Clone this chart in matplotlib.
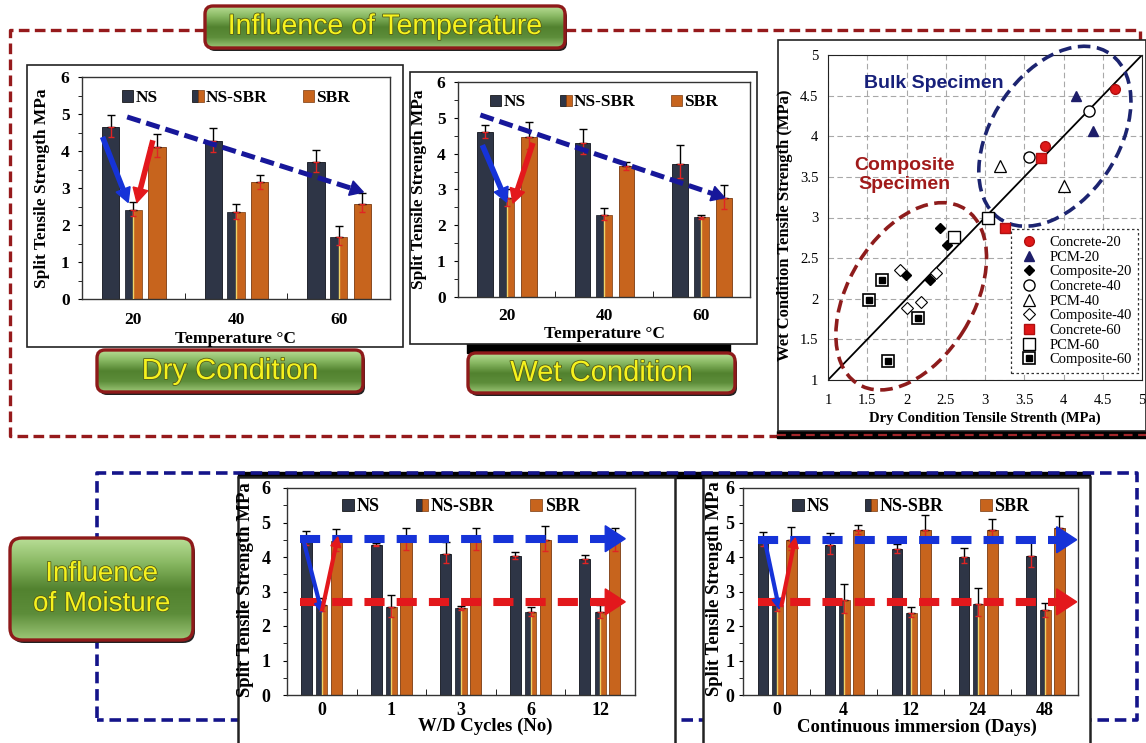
import numpy as np
import matplotlib
matplotlib.use('Agg')
import matplotlib.pyplot as plt
from matplotlib.patches import Rectangle, FancyBboxPatch, Ellipse, Polygon, Patch
from matplotlib.legend_handler import HandlerTuple
from matplotlib.colors import LinearSegmentedColormap
import matplotlib.patheffects as pe

# temperature series (split tensile strength, MPa)
temps = ['20', '40', '60']
dry_ns = [4.65, 4.27, 3.70]
dry_ns_err = [0.33, 0.36, 0.33]
dry_mix = [2.41, 2.34, 1.68]
dry_mix_err = [0.20, 0.22, 0.29]
dry_sbr = [4.12, 3.15, 2.57]
dry_sbr_err = [0.34, 0.21, 0.29]

wet_ns = [4.60, 4.30, 3.72]
wet_ns_err = [0.19, 0.40, 0.51]
wet_mix = [2.75, 2.30, 2.23]
wet_mix_err = [0.27, 0.18, 0.07]
wet_sbr = [4.47, 3.65, 2.76]
wet_sbr_err = [0.41, 0.12, 0.37]

# wetting/drying cycles
cycles = ['0', '1', '3', '6', '12']
wd_ns = [4.53, 4.36, 4.10, 4.03, 3.94]
wd_ns_err = [0.21, 0.06, 0.33, 0.11, 0.13]
wd_mix = [2.60, 2.55, 2.52, 2.40, 2.40]
wd_mix_err = [0.20, 0.35, 0.07, 0.15, 0.20]
wd_sbr = [4.45, 4.48, 4.48, 4.50, 4.48]
wd_sbr_err = [0.36, 0.35, 0.35, 0.41, 0.37]

# continuous immersion
days = ['0', '4', '12', '24', '48']
im_ns = [4.50, 4.35, 4.23, 4.01, 4.04]
im_ns_err = [0.23, 0.34, 0.15, 0.24, 0.43]
im_mix = [2.60, 2.75, 2.39, 2.65, 2.45]
im_mix_err = [0.20, 0.47, 0.17, 0.45, 0.22]
im_sbr = [4.50, 4.78, 4.78, 4.77, 4.83]
im_sbr_err = [0.37, 0.15, 0.44, 0.33, 0.36]

# dry vs wet strength, one list pair per specimen group
conc20_x, conc20_y = [4.66, 3.77], [4.58, 3.88]
pcm20_x, pcm20_y = [4.16, 4.38], [4.49, 4.06]
comp20_x, comp20_y = [2.43, 2.51, 1.99, 2.30], [2.87, 2.66, 2.29, 2.23]
conc40_x, conc40_y = [4.32, 3.56], [4.31, 3.74]
pcm40_x, pcm40_y = [3.19, 4.01], [3.63, 3.39]
comp40_x, comp40_y = [1.92, 2.38, 2.00, 2.18], [2.36, 2.32, 1.89, 1.96]
conc60_x, conc60_y = [3.71, 3.26], [3.73, 2.87]
pcm60_x, pcm60_y = [3.04, 2.60], [2.99, 2.76]
comp60_x, comp60_y = [1.69, 1.52, 2.15, 1.77], [2.23, 1.98, 1.76, 1.23]

W, H = 1146, 743
SERIF = 'Liberation Serif'
SANS = 'Liberation Sans'
NS_C = '#2E3546'
SBR_C = '#C7641D'
BLUE = '#1633D8'
NAVY = '#17179A'
RED = '#E3181C'
plt.rcParams['font.family'] = SERIF


def frac(x0, y0, x1, y1):
    return [x0 / W, 1 - y1 / H, (x1 - x0) / W, (y1 - y0) / H]


fig = plt.figure(figsize=(W / 100, H / 100), dpi=100)
bg = fig.add_axes([0, 0, 1, 1])
bg.axis('off')

# dashed group outlines
red_dash = dict(color='#961A1C', lw=2.4, linestyle=(0, (3.2, 1.6)), zorder=1)
bg.plot([205, 10, 10, 777], [30, 30, 436, 436], **red_dash)
bg.plot([565, 1140, 1140], [30, 30, 60], **red_dash)
blue_dash = dict(color='#14148A', lw=2.6, linestyle=(0, (3.2, 1.6)), zorder=2)
bg.add_patch(Rectangle((238, 472), 852, 6, color='black', zorder=1))
bg.plot([97, 97, 1137, 1137, 97], [718, 473, 473, 720, 720], **blue_dash)

# white chart panels
def panel(x0, y0, x1, y1, lw=1.2):
    bg.add_patch(Rectangle((x0, y0), x1 - x0, y1 - y0, fc='white', ec='#222222', lw=lw, zorder=3))

panel(27, 65, 403, 347)
bg.add_patch(Rectangle((467, 343), 263, 10, color='black', zorder=2))
panel(410, 72, 757, 344)
bg.add_patch(Rectangle((777, 431), 369, 7, color='black', zorder=2))
bg.plot([777, 1146], [434.5, 434.5], color='#A3262A', lw=1.6, linestyle=(0, (4, 2.5)), zorder=4)
panel(778, 40, 1146, 431)
panel(238, 477, 675, 746, lw=1.8)
panel(703, 477, 1090, 746, lw=1.8)

# green title boxes
green = LinearSegmentedColormap.from_list('g', ['#B8DD95', '#86B660', '#52822F', '#5D8D3A', '#9CC676'])
grad = green(np.linspace(0, 1, 64))[:, None, :3]


def title_box(x0, y0, x1, y1, text, fs, rs=8):
    shadow = FancyBboxPatch((x0 + 2, y0 + 3), x1 - x0, y1 - y0, boxstyle=f'round,pad=0,rounding_size={rs}',
                            fc='#222222', ec='none', zorder=5)
    bg.add_patch(shadow)
    box = FancyBboxPatch((x0, y0), x1 - x0, y1 - y0, boxstyle=f'round,pad=0,rounding_size={rs}',
                         fc='none', ec='#8E1A1A', lw=2.4, zorder=7)
    bg.add_patch(box)
    im = bg.imshow(grad, extent=(x0, x1, y1, y0), aspect='auto', zorder=6, interpolation='bilinear')
    im.set_clip_path(box)
    bg.text((x0 + x1) / 2, (y0 + y1) / 2, text, ha='center', va='center', fontsize=fs, family=SANS,
            color='#F6F21E', zorder=8, linespacing=1.2,
            path_effects=[pe.withStroke(linewidth=1.2, foreground='#55601A')])


title_box(205, 6, 565, 48, 'Influence of Temperature', 20.5)
title_box(97, 350, 363, 392, 'Dry Condition', 21)
title_box(468, 353, 735, 393, 'Wet Condition', 21)
title_box(10, 538, 193, 640, 'Influence\nof Moisture', 20, rs=12)
bg.set_xlim(0, W)
bg.set_ylim(H, 0)


def thick_arrow(ax, p0, p1, color, lw, head_len, head_w, dash=None, z=6):
    t = ax.transData
    a, b = t.transform(p0), t.transform(p1)
    u = (b - a) / np.hypot(*(b - a))
    base = b - u * head_len
    base_d = t.inverted().transform(base)
    ax.plot([p0[0], base_d[0]], [p0[1], base_d[1]], color=color, lw=lw, linestyle=dash or '-',
            solid_capstyle='butt', dash_capstyle='butt', zorder=z, clip_on=False)
    n = np.array([-u[1], u[0]])
    tri = np.array([b, base + n * head_w / 2, base - n * head_w / 2])
    ax.add_patch(Polygon(t.inverted().transform(tri), closed=True, color=color, zorder=z, clip_on=False))


def bar_chart(ax, cats, ns, ns_e, mix, mix_e, sbr, sbr_e, offs, width, fs):
    x = np.arange(len(cats))
    ns, mix, sbr = np.array(ns), np.array(mix), np.array(sbr)
    ax.bar(x + offs[0], ns, width, color=NS_C, edgecolor='#10131c', lw=0.6, zorder=2)
    ax.bar(x + offs[1] - width / 4, mix, width / 2, color=NS_C, edgecolor='#10131c', lw=0.5, zorder=2)
    ax.bar(x + offs[1] + width / 4, mix, width / 2, color=SBR_C, edgecolor='#7a3a10', lw=0.5, zorder=2)
    ax.vlines(x + offs[1], 0, mix, color='#F0D468', lw=1.0, zorder=3)
    ax.bar(x + offs[2], sbr, width, color=SBR_C, edgecolor='#7a3a10', lw=0.6, zorder=2)
    for off, v, e in ((offs[0], ns, ns_e), (offs[1], mix, mix_e), (offs[2], sbr, sbr_e)):
        e = np.array(e)
        ax.errorbar(x + off, v, yerr=[np.zeros_like(e), e], fmt='none', ecolor='black', elinewidth=1,
                    capsize=3, zorder=4)
        ax.errorbar(x + off, v, yerr=[e * 0.8, np.zeros_like(e)], fmt='none', ecolor='#E02424',
                    elinewidth=1, capsize=2.5, zorder=4)
    ax.set_xlim(-0.5, len(cats) - 0.5)
    ax.set_ylim(0, 6)
    ax.set_yticks(range(7))
    ax.set_yticks(np.arange(0.5, 6, 1), minor=True)
    ax.set_xticks(x)
    ax.set_xticklabels(cats)
    ax.set_xticks(np.arange(0.5, len(cats) - 1, 1), minor=True)
    ax.tick_params(axis='x', which='major', length=0, labelsize=fs, pad=9)
    ax.tick_params(axis='x', which='minor', length=4, direction='in')
    ax.tick_params(axis='y', which='both', length=3, direction='out', labelsize=fs, pad=6)
    for lab in ax.get_xticklabels() + ax.get_yticklabels():
        lab.set_fontweight('bold')
    for s in ax.spines.values():
        s.set_color('#333333')
        s.set_linewidth(1.0)
    handles = [Patch(fc=NS_C, ec='black', lw=0.5),
               (Patch(fc=NS_C, ec='black', lw=0.5), Patch(fc=SBR_C, ec='#7a3a10', lw=0.5)),
               Patch(fc=SBR_C, ec='#7a3a10', lw=0.5)]
    ax.legend(handles, ['NS', 'NS-SBR', 'SBR'], ncol=3, loc='center', bbox_to_anchor=(0.5, 0.905),
              frameon=False, handlelength=0.65, handleheight=0.65, handletextpad=0.15, columnspacing=2.0,
              prop=dict(family=SERIF, weight='bold', size=fs),
              handler_map={tuple: HandlerTuple(ndivide=None, pad=0)})


def label_texts(ax, xlab, xl_pos, yl_pos, fs):
    ax.text(xl_pos[0], xl_pos[1], xlab, transform=ax.transAxes, ha='center', va='center',
            fontsize=fs, fontweight='bold')
    ax.text(yl_pos[0], yl_pos[1], 'Split Tensile Strength MPa', transform=ax.transAxes, rotation=90,
            ha='center', va='center', fontsize=fs, fontweight='bold')


# dry condition
ax1 = fig.add_axes(frac(82, 77, 390, 299))
bar_chart(ax1, temps, dry_ns, dry_ns_err, dry_mix, dry_mix_err, dry_sbr, dry_sbr_err,
          (-0.22, 0.0, 0.23), 0.17, 12.5)
label_texts(ax1, 'Temperature \u00b0C', (0.5, -0.178), (-0.13, 0.5), 12.5)
thick_arrow(ax1, (-0.30, dry_ns[0] - 0.27), (-0.05, dry_mix[0] + 0.2), BLUE, 4.0, 14, 15)
thick_arrow(ax1, (0.19, dry_sbr[0] + 0.17), (0.035, dry_mix[0] + 0.2), RED, 4.0, 14, 15)
thick_arrow(ax1, (-0.06, dry_ns[0] + 0.27), (2.24, dry_sbr[2] + 0.32), NAVY, 3.6, 13, 15,
            dash=(0, (2.8, 1.2)))

# wet condition
ax2 = fig.add_axes(frac(458, 82, 750, 297))
bar_chart(ax2, temps, wet_ns, wet_ns_err, wet_mix, wet_mix_err, wet_sbr, wet_sbr_err,
          (-0.22, 0.0, 0.23), 0.16, 12.5)
ax2.tick_params(axis='x', which='major', pad=8)
label_texts(ax2, 'Temperature \u00b0C', (0.5, -0.172), (-0.135, 0.5), 12.5)
thick_arrow(ax2, (-0.25, wet_ns[0] - 0.36), (0.0, wet_mix[0] - 0.1), BLUE, 4.0, 14, 15)
thick_arrow(ax2, (0.27, wet_sbr[0] - 0.17), (0.065, wet_mix[0] - 0.13), RED, 4.0, 14, 15)
thick_arrow(ax2, (-0.27, wet_ns[0] + 0.48), (2.24, wet_sbr[2] + 0.01), NAVY, 3.6, 13, 15,
            dash=(0, (2.8, 1.2)))

# wetting / drying cycles
ax4 = fig.add_axes(frac(287, 488, 635, 695))
bar_chart(ax4, cycles, wd_ns, wd_ns_err, wd_mix, wd_mix_err, wd_sbr, wd_sbr_err,
          (-0.22, 0.0, 0.21), 0.16, 13)
ax4.tick_params(axis='x', which='major', pad=5)
ax4.tick_params(axis='y', which='both', pad=9)
label_texts(ax4, 'W/D Cycles (No)', (0.57, -0.15), (-0.12, 0.51), 13.5)
ax4.get_legend().set_bbox_to_anchor((0.5, 0.91))
thick_arrow(ax4, (-0.31, wd_ns[0]), (4.36, wd_ns[0]), BLUE, 5.8, 20, 26, dash=(0, (2.5, 1.5)), z=7)
thick_arrow(ax4, (-0.31, 2.7), (4.36, 2.7), RED, 5.8, 20, 26, dash=(0, (2.5, 1.5)), z=7)
thick_arrow(ax4, (-0.27, wd_ns[0]), (0.0, 2.4), BLUE, 3.0, 10, 10, z=8)
thick_arrow(ax4, (0.0, 2.42), (0.23, wd_ns[0] + 0.05), RED, 3.0, 10, 10, z=8)

# continuous immersion
ax5 = fig.add_axes(frac(743, 488, 1078, 695))
bar_chart(ax5, days, im_ns, im_ns_err, im_mix, im_mix_err, im_sbr, im_sbr_err,
          (-0.2, 0.01, 0.22), 0.16, 13)
ax5.tick_params(axis='x', which='major', pad=5)
ax5.tick_params(axis='y', which='both', pad=3)
label_texts(ax5, 'Continuous immersion (Days)', (0.52, -0.155), (-0.085, 0.515), 13.5)
ax5.get_legend().set_bbox_to_anchor((0.5, 0.91))
thick_arrow(ax5, (-0.28, im_ns[0]), (4.48, im_ns[0]), BLUE, 5.8, 20, 26, dash=(0, (2.5, 1.5)), z=7)
thick_arrow(ax5, (-0.28, 2.7), (4.48, 2.7), RED, 5.8, 20, 26, dash=(0, (2.5, 1.5)), z=7)
thick_arrow(ax5, (-0.17, im_ns[0] - 0.07), (0.04, 2.5), BLUE, 3.0, 10, 10, z=8)
thick_arrow(ax5, (0.07, 2.55), (0.28, im_ns[0] + 0.05), RED, 3.0, 10, 10, z=8)

# dry vs wet scatter
ax3 = fig.add_axes(frac(828, 55, 1142, 380))
ax3.set_xlim(1, 5)
ax3.set_ylim(1, 5)
ax3.set_xticks(np.arange(1, 5.01, 0.5))
ax3.set_yticks(np.arange(1, 5.01, 0.5))
ax3.set_xticklabels(['1', '1.5', '2', '2.5', '3', '3.5', '4', '4.5', '5'])
ax3.set_yticklabels(['1', '1.5', '2', '2.5', '3', '3.5', '4', '4.5', '5'])
ax3.tick_params(length=0, labelsize=10.5)
ax3.tick_params(axis='x', pad=10)
ax3.tick_params(axis='y', pad=7)
ax3.grid(True, color='#A8A8A8', linestyle=(0, (5, 3)), lw=0.8)
ax3.set_axisbelow(True)
for s in ax3.spines.values():
    s.set_color('#222222')
ax3.plot([1, 5], [1, 5], color='black', lw=1.3, zorder=2)

ax3.add_patch(Ellipse((3.89, 4.0), 2.47, 1.6, angle=54.5, fill=False, ec='#1C2470', lw=2.6,
                      linestyle=(0, (3.5, 1.8)), clip_on=False, zorder=3))
ax3.add_patch(Ellipse((2.06, 2.03), 2.55, 1.58, angle=57, fill=False, ec='#8E1C1C', lw=2.6,
                      linestyle=(0, (3.5, 1.8)), clip_on=False, zorder=3))

h_c20, = ax3.plot(conc20_x, conc20_y, 'o', ms=7, mfc='#E01818', mec='#B01010', zorder=5)
h_p20, = ax3.plot(pcm20_x, pcm20_y, '^', ms=7, mfc='#1E1E6A', mec='#1E1E6A', zorder=5)
h_m20, = ax3.plot(comp20_x, comp20_y, 'D', ms=5, mfc='black', mec='black', zorder=5)
h_c40, = ax3.plot(conc40_x, conc40_y, 'o', ms=8, mfc='white', mec='black', mew=1, zorder=5)
h_p40, = ax3.plot(pcm40_x, pcm40_y, '^', ms=8.5, mfc='white', mec='black', mew=0.9, zorder=5)
h_m40, = ax3.plot(comp40_x, comp40_y, 'D', ms=6, mfc='white', mec='black', mew=0.8, zorder=5)
h_c60, = ax3.plot(conc60_x, conc60_y, 's', ms=7.5, mfc='#E01818', mec='#B01010', zorder=5)
h_p60, = ax3.plot(pcm60_x, pcm60_y, 's', ms=8.5, mfc='white', mec='black', mew=1, zorder=5)
h_m60a, = ax3.plot(comp60_x, comp60_y, 's', ms=8.5, mfc='white', mec='black', mew=1.2, zorder=5)
h_m60b, = ax3.plot(comp60_x, comp60_y, 's', ms=3.8, mfc='black', mec='black', zorder=6)

leg = ax3.legend([h_c20, h_p20, h_m20, h_c40, h_p40, h_m40, h_c60, h_p60, (h_m60a, h_m60b)],
                 ['Concrete-20', 'PCM-20', 'Composite-20', 'Concrete-40', 'PCM-40', 'Composite-40',
                  'Concrete-60', 'PCM-60', 'Composite-60'],
                 loc='lower right', bbox_to_anchor=(0.988, 0.022), fancybox=False, framealpha=1,
                 edgecolor='#333333', borderpad=0.45, labelspacing=0.1, handletextpad=0.6,
                 handlelength=1.6, borderaxespad=0, prop=dict(family=SERIF, size=10.5),
                 handler_map={tuple: HandlerTuple(ndivide=1)})
leg.get_frame().set_linestyle((0, (2, 2)))
leg.get_frame().set_linewidth(0.9)

ax3.text(2.35, 4.65, 'Bulk Specimen', ha='center', va='center', fontsize=14, family=SANS,
         fontweight='bold', color='#17207A', zorder=6)
ax3.text(1.97, 3.52, 'Composite\nSpecimen', ha='center', va='center', fontsize=14, family=SANS,
         fontweight='bold', color='#A01A1A', linespacing=1.15, zorder=6)
ax3.text(0.5, -0.118, 'Dry Condition Tensile Strenth (MPa)', transform=ax3.transAxes, ha='center',
         va='center', fontsize=10.5, fontweight='bold')
ax3.text(-0.137, 0.477, 'Wet Condition Tensile Strength (MPa)', transform=ax3.transAxes, rotation=90,
         ha='center', va='center', fontsize=12, fontweight='bold')

fig.savefig('out.png', dpi=100, facecolor='white')
